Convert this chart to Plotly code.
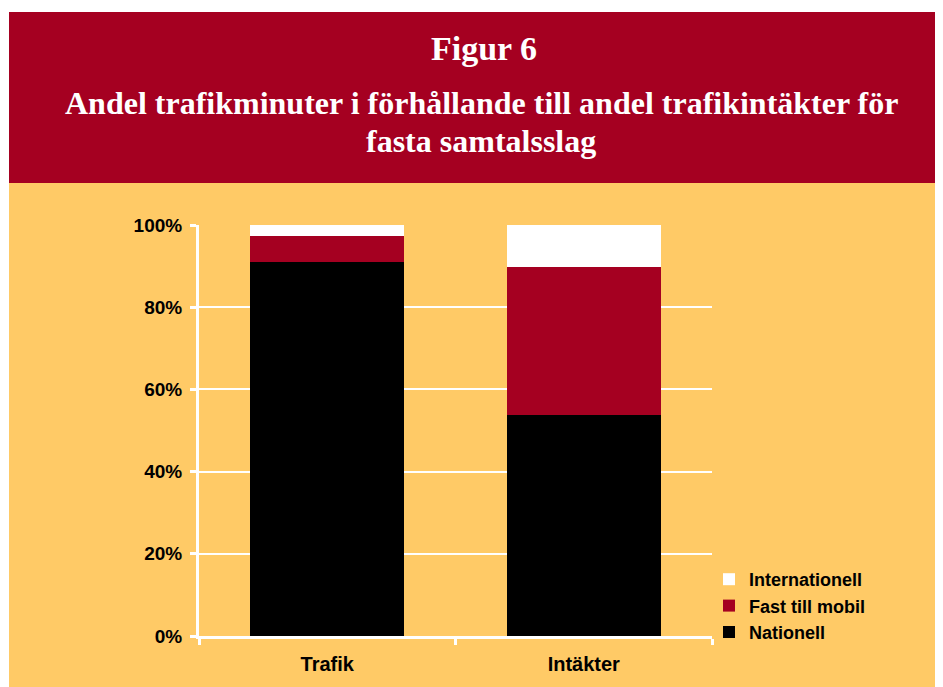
import plotly.graph_objects as go

categories = ["Trafik", "Intäkter"]
nationell = [91.0, 53.8]
fast_till_mobil = [6.3, 36.0]
internationell = [2.7, 10.2]
y_ticks = [0, 20, 40, 60, 80, 100]
y_tick_labels = ["0%", "20%", "40%", "60%", "80%", "100%"]

RED = "#A50021"
YELLOW = "#FFCA66"

fig = go.Figure()
fig.add_bar(x=categories, y=nationell, name="Nationell", marker=dict(color="#000000", line=dict(width=0)))
fig.add_bar(x=categories, y=fast_till_mobil, name="Fast till mobil", marker=dict(color=RED, line=dict(width=0)))
fig.add_bar(x=categories, y=internationell, name="Internationell", marker=dict(color="#FFFFFF", line=dict(width=0)))

OFF = 8  # page body margin
W, H = 943 - OFF, 687 - OFF
L, R, T, B = 199 - OFF, 712 - OFF, 225 - OFF, 636 - OFF
pw, ph = R - L, B - T

def px(x):
    return (x - OFF - L) / pw

def py(y):
    return (B - (y - OFF)) / ph

shapes = [
    dict(type="rect", xref="paper", yref="paper", x0=px(-5), x1=px(960), y0=py(12), y1=py(-5),
         fillcolor="white", line=dict(width=0)),
    dict(type="rect", xref="paper", yref="paper", x0=px(-5), x1=px(9), y0=py(700), y1=py(-5),
         fillcolor="white", line=dict(width=0)),
    dict(type="rect", xref="paper", yref="paper", x0=px(9), x1=px(960), y0=py(183), y1=py(12),
         fillcolor=RED, line=dict(width=0)),
]

annotations = [
    dict(text="<b>Figur 6</b>", xref="paper", yref="paper", x=px(484), y=py(48), showarrow=False,
         font=dict(family="Liberation Serif", size=34, color="white"), xanchor="center", yanchor="middle"),
    dict(text="<b>Andel trafikminuter i förhållande till andel trafikintäkter för</b>", xref="paper", yref="paper",
         x=px(481), y=py(103), showarrow=False,
         font=dict(family="Liberation Serif", size=32, color="white"), xanchor="center", yanchor="middle"),
    dict(text="<b>fasta samtalsslag</b>", xref="paper", yref="paper", x=px(481), y=py(141), showarrow=False,
         font=dict(family="Liberation Serif", size=32, color="white"), xanchor="center", yanchor="middle"),
]

fig.update_layout(
    width=W, height=H,
    margin=dict(l=L, r=W - R, t=T, b=H - B, pad=0),
    paper_bgcolor=YELLOW, plot_bgcolor=YELLOW,
    barmode="stack", bargap=0.4,
    shapes=shapes, annotations=annotations,
    showlegend=True,
    legend=dict(x=px(709), y=py(561), xanchor="left", yanchor="top", traceorder="reversed",
                font=dict(family="Liberation Sans", size=18, color="black", weight="bold"),
                bgcolor="rgba(0,0,0,0)", itemwidth=30, tracegroupgap=0),
    font=dict(family="Liberation Sans", color="black"),
)
fig.update_yaxes(range=[0, 100], tickvals=y_ticks, ticktext=["<b>%s</b>" % t for t in y_tick_labels],
                 showgrid=True, gridcolor="white", gridwidth=2,
                 showline=True, linecolor="white", linewidth=3,
                 ticks="outside", ticklen=6, tickcolor="white", tickwidth=3, ticklabelstandoff=4,
                 tickfont=dict(size=19, family="Liberation Sans", color="black"), zeroline=False)
fig.update_xaxes(tickvals=categories, ticktext=["<b>%s</b>" % c for c in categories],
                 showline=True, linecolor="white", linewidth=3,
                 ticks="outside", tickson="boundaries", ticklen=6, tickcolor="white", tickwidth=3,
                 ticklabelstandoff=8,
                 tickfont=dict(size=20, family="Liberation Sans", color="black"))

fig.write_html("out.html")
